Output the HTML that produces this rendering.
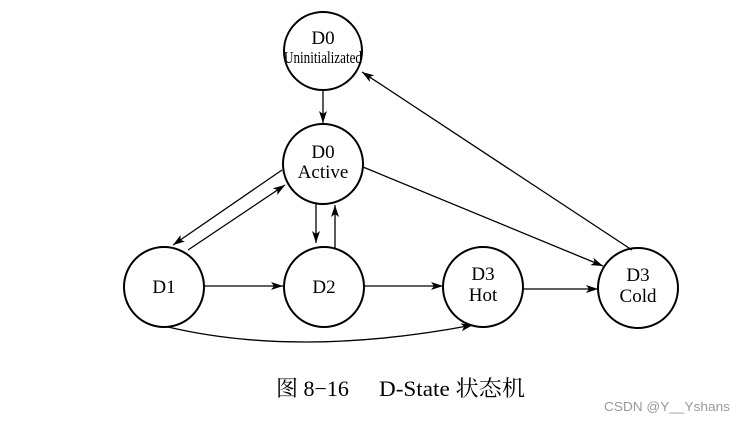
<!DOCTYPE html>
<html><head><meta charset="utf-8"><style>
html,body{margin:0;padding:0;background:#fff;}
svg{display:block;}
text{font-family:"Liberation Serif","Noto Serif CJK SC",serif;fill:#000;}
</style></head><body>
<svg width="746" height="422" viewBox="0 0 746 422" xmlns="http://www.w3.org/2000/svg">
<defs>
<marker id="a" viewBox="0 0 12 8" refX="12" refY="4" markerWidth="12" markerHeight="8" markerUnits="userSpaceOnUse" orient="auto">
<path d="M0,0 L12,4 L0,8 L3,4 Z" fill="#000"/>
</marker>
</defs>
<g fill="none" stroke="#000" stroke-width="2">
<circle cx="323" cy="51" r="39"/>
<circle cx="323" cy="164" r="40"/>
<circle cx="164" cy="287" r="40"/>
<circle cx="324" cy="287" r="40"/>
<circle cx="483" cy="287" r="40"/>
<circle cx="638" cy="288" r="40"/>
</g>
<g fill="none" stroke="#000" stroke-width="1.3" marker-end="url(#a)">
<line x1="323" y1="90" x2="323" y2="123"/>
<line x1="282" y1="170" x2="173" y2="245"/>
<line x1="188" y1="250" x2="285" y2="185"/>
<line x1="316" y1="203" x2="316" y2="243"/>
<line x1="335" y1="248" x2="335" y2="205"/>
<line x1="205" y1="286" x2="283" y2="286"/>
<line x1="365" y1="286" x2="443" y2="286"/>
<line x1="523" y1="289" x2="598" y2="289"/>
<line x1="363" y1="167" x2="603" y2="266"/>
<line x1="632" y1="250" x2="362" y2="72"/>
<path d="M168,327 Q300,358 473,325"/>
</g>
<g font-size="19" text-anchor="middle">
<text x="323" y="44">D0</text>
<text x="323" y="63" font-size="17" textLength="78" lengthAdjust="spacingAndGlyphs">Uninitializated</text>
<text x="323" y="158">D0</text>
<text x="323" y="178">Active</text>
<text x="164" y="293">D1</text>
<text x="324" y="293">D2</text>
<text x="483" y="280">D3</text>
<text x="483" y="301">Hot</text>
<text x="638" y="281">D3</text>
<text x="638" y="302">Cold</text>
</g>
<text x="276" y="396" font-size="22">图 8−16</text>
<text x="379" y="396" font-size="22" textLength="146" lengthAdjust="spacingAndGlyphs">D-State 状态机</text>
<text x="604" y="411" font-size="13" textLength="126" lengthAdjust="spacingAndGlyphs" style="font-family:'Liberation Sans',sans-serif;fill:#999">CSDN @Y__Yshans</text>
</svg>
</body></html>
